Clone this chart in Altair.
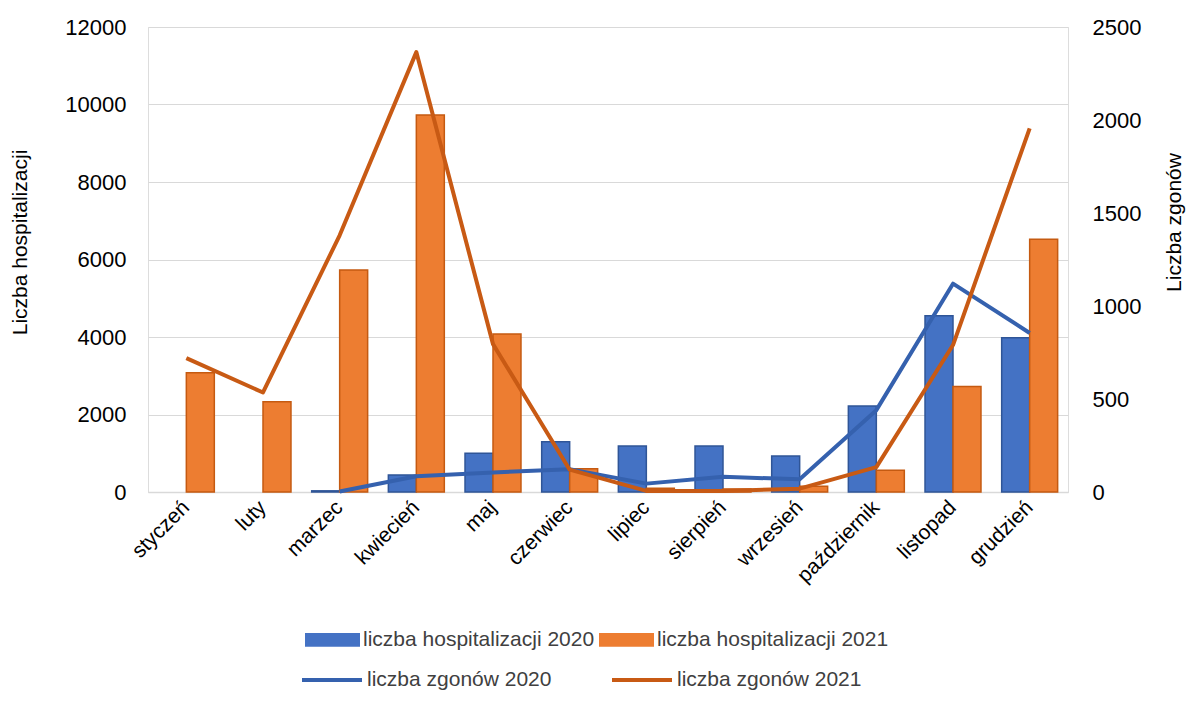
import altair as alt
import pandas as pd

months = ["styczeń", "luty", "marzec", "kwiecień", "maj", "czerwiec", "lipiec",
          "sierpień", "wrzesień", "październik", "listopad", "grudzień"]
hosp_2020 = [None, None, 30, 440, 1000, 1300, 1190, 1190, 930, 2220, 4550, 3980]
hosp_2021 = [3080, 2330, 5730, 9730, 4080, 600, 100, 80, 150, 560, 2720, 6520]
deaths_2020 = [None, None, 3, 85, 105, 122, 45, 82, 68, 440, 1120, 855]
deaths_2021 = [720, 535, 1380, 2365, 795, 120, 6, 6, 18, 134, 790, 1955]

S_H20 = "liczba hospitalizacji 2020"
S_H21 = "liczba hospitalizacji 2021"
S_D20 = "liczba zgonów 2020"
S_D21 = "liczba zgonów 2021"

BLUE = "#4472C4"
BLUE_EDGE = "#2F5597"
ORANGE = "#ED7D31"
ORANGE_EDGE = "#C55A11"
BLUE_LINE = "#3561AE"
ORANGE_LINE = "#C85A14"
FONT = "Liberation Sans"
TXT = "#404040"

bar_rows = []
for i, m in enumerate(months):
    if hosp_2020[i] is not None:
        bar_rows.append({"month": m, "series": S_H20, "value": hosp_2020[i]})
    if hosp_2021[i] is not None:
        bar_rows.append({"month": m, "series": S_H21, "value": hosp_2021[i]})
bar_df = pd.DataFrame(bar_rows)

line_rows = []
for i, m in enumerate(months):
    if deaths_2020[i] is not None:
        line_rows.append({"month": m, "idx": i, "series": S_D20, "value": deaths_2020[i]})
for i, m in enumerate(months):
    if deaths_2021[i] is not None:
        line_rows.append({"month": m, "idx": i, "series": S_D21, "value": deaths_2021[i]})
line_df = pd.DataFrame(line_rows)

x_enc = alt.X(
    "month:N", sort=months, title=None,
    scale=alt.Scale(domain=months, paddingInner=0.27, paddingOuter=0.135),
    axis=alt.Axis(labelAngle=315, labelAlign="right", labelBaseline="middle",
                  labelPadding=12, ticks=False, domain=True, domainColor="#D9D9D9",
                  domainWidth=1.5, grid=False, labelFontSize=21),
)

y_left = alt.Y(
    "value:Q", title="Liczba hospitalizacji",
    scale=alt.Scale(domain=[0, 12000], nice=False),
    axis=alt.Axis(values=[0, 2000, 4000, 6000, 8000, 10000, 12000], format="d",
                  grid=True, gridColor="#D9D9D9", gridWidth=1.2, ticks=False,
                  domain=False, labelPadding=22, labelFontSize=22,
                  titleAngle=270, titleX=-128, titleY=215, titleAlign="center",
                  titleBaseline="middle", titleFontSize=21, titleFontWeight="normal"),
)

fill_enc = alt.Fill(
    "series:N", title=None,
    scale=alt.Scale(domain=[S_H20, S_H21], range=[BLUE, ORANGE]),
    legend=alt.Legend(orient="none", direction="horizontal", columns=2,
                      legendX=157, legendY=585, columnPadding=4, labelOffset=3,
                      symbolType="M-1,-0.25L1,-0.25L1,0.25L-1,0.25Z",
                      symbolSize=3025, symbolStrokeWidth=0, labelFontSize=21,
                      labelFont=FONT, labelColor=TXT, labelLimit=400),
)

xoff = alt.XOffset("series:N", scale=alt.Scale(domain=[S_H20, S_H21]))

bars20 = alt.Chart(bar_df).transform_filter(
    alt.datum.series == S_H20
).mark_bar(stroke=BLUE_EDGE, strokeWidth=1.5).encode(
    x=x_enc, xOffset=xoff, y=y_left, fill=fill_enc
)
bars21 = alt.Chart(bar_df).transform_filter(
    alt.datum.series == S_H21
).mark_bar(stroke=ORANGE_EDGE, strokeWidth=1.5).encode(
    x=x_enc, xOffset=xoff, y=y_left, fill=fill_enc
)
bars = alt.layer(bars20, bars21)

lines = alt.Chart(line_df).mark_line(strokeWidth=4, strokeJoin="round").encode(
    x=x_enc,
    y=alt.Y(
        "value:Q", title="Liczba zgonów",
        scale=alt.Scale(domain=[0, 2500], nice=False),
        axis=alt.Axis(orient="right", values=[0, 500, 1000, 1500, 2000, 2500],
                      format="d", grid=False, ticks=False, domain=False,
                      labelPadding=24, labelFontSize=22,
                      titleAngle=270, titleX=106, titleY=195, titleAlign="center",
                      titleBaseline="middle", titleFontSize=21,
                      titleFontWeight="normal"),
    ),
    stroke=alt.Stroke(
        "series:N", title=None,
        scale=alt.Scale(domain=[S_D20, S_D21], range=[BLUE_LINE, ORANGE_LINE]),
        legend=alt.Legend(orient="none", direction="horizontal", columns=2,
                          legendX=152, legendY=621, columnPadding=52, labelOffset=3,
                          symbolType="stroke", symbolSize=3600,
                          symbolStrokeWidth=4, labelFontSize=21,
                          labelFont=FONT, labelColor=TXT, labelLimit=400),
    ),
    detail="series:N",
    order=alt.Order("idx:Q"),
)

chart = alt.layer(bars, lines).resolve_scale(
    y="independent", fill="independent", stroke="independent"
).properties(
    width=920, height=465,
    autosize=alt.AutoSizeParams(type="none"),
    padding={"left": 140, "top": 19, "right": 118, "bottom": 204},
).configure_view(stroke=None).configure_axis(
    labelFont=FONT, titleFont=FONT, labelColor=TXT, titleColor=TXT
).configure(background="white")

chart.save("out.html", embed_options={"renderer": "svg", "actions": False})
